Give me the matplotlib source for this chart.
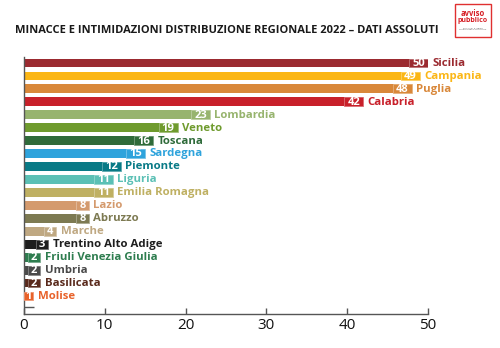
import matplotlib
matplotlib.use("Agg")
import matplotlib.pyplot as plt
from matplotlib.patches import Rectangle
import matplotlib.colors as mcolors

regions = ["Sicilia", "Campania", "Puglia", "Calabria", "Lombardia", "Veneto", "Toscana",
           "Sardegna", "Piemonte", "Liguria", "Emilia Romagna", "Lazio", "Abruzzo", "Marche",
           "Trentino Alto Adige", "Friuli Venezia Giulia", "Umbria", "Basilicata", "Molise"]
values = [50, 49, 48, 42, 23, 19, 16, 15, 12, 11, 11, 8, 8, 4, 3, 2, 2, 2, 1]
colors = ["#9b2a30", "#fbb615", "#d9883a", "#c8202a", "#97b46e", "#6f9b2e", "#2f6b3a",
          "#2ea3dc", "#087a86", "#5bc0b5", "#bfb062", "#d49a6d", "#7d7a52", "#bfa882",
          "#1e1e1e", "#2e7d4f", "#4a4a4a", "#5a2a1c", "#e8622a"]
xticks = [0, 10, 20, 30, 40, 50]
title = "MINACCE E INTIMIDAZIONI DISTRIBUZIONE REGIONALE 2022 – DATI ASSOLUTI"

W, H = 500, 348
fig = plt.figure(figsize=(W / 100, H / 100), dpi=100)
ax = fig.add_axes([24 / W, 1 - 314 / H, (428 - 24) / W, (314 - 57) / H])

pos = list(range(len(regions)))
ax.barh(pos, values, height=0.68, color=colors, zorder=2)
ax.set_xlim(0, 50)
ax.set_ylim(len(regions) - 1 + 1.39, -0.46)

def lighten(c, a=0.35):
    r, g, b = mcolors.to_rgb(c)
    return (r + (1 - r) * a, g + (1 - g) * a, b + (1 - b) * a)

ppx = 50 / (428 - 24)  # data units per pixel
for p, v, c, name in zip(pos, values, colors, regions):
    nd = len(str(v))
    bw = (6 + 6.5 * nd) * ppx
    x0 = max(v - bw, 0.05)
    x1 = max(v, x0 + (5 + 4 * nd) * ppx)
    ax.add_patch(Rectangle((x0, p - 0.34), x1 - x0, 0.68, facecolor=c,
                           edgecolor=lighten(c), linewidth=0.6, zorder=3))
    ax.text((x0 + x1) / 2, p + 0.03, str(v), color="white", fontsize=8,
            fontweight="bold", ha="center", va="center", zorder=4,
            family="Open Sans")
    ax.text(x1 + 4.5 * ppx, p + 0.03, name, color=c, fontsize=8.2,
            fontweight="bold", ha="left", va="center", family="Open Sans",
            clip_on=False)

for s in ["top", "right"]:
    ax.spines[s].set_visible(False)
ax.spines["left"].set_color("#555555")
ax.spines["bottom"].set_color("#555555")
ax.spines["left"].set_linewidth(1.0)
ax.spines["bottom"].set_linewidth(1.0)
ax.set_xticks(xticks)
ax.set_xticklabels([str(t) for t in xticks], fontsize=11, family="Open Sans", color="#111111")
ax.tick_params(axis="x", direction="in", length=4.5, width=1, color="#555555", pad=3)
ax.set_yticks([len(regions) - 1 + 0.85])
ax.set_yticklabels([""])
ax.tick_params(axis="y", direction="in", length=7, width=1, color="#555555")

# title fitted to width
t = fig.text(15 / W, 1 - 30.5 / H, title, fontsize=9, fontweight="bold",
             family="Open Sans", color="#1a1a1a", ha="left", va="center")
fig.canvas.draw()
r = fig.canvas.get_renderer()
w = t.get_window_extent(r).width
t.set_fontsize(9 * 422 / w)

# logo
fig.patches.append(Rectangle((455 / W, 1 - 37 / H), 36 / W, 33 / H, transform=fig.transFigure,
                             facecolor="white", edgecolor="#e03030", linewidth=1.0))
fig.text(473 / W, 1 - 14 / H, "avviso", color="#d62027", fontsize=5.5, fontweight="bold",
         ha="center", va="center", family="Open Sans")
fig.text(473 / W, 1 - 21 / H, "pubblico", color="#d62027", fontsize=5, fontweight="bold",
         ha="center", va="center", family="Open Sans")
fig.text(473 / W, 1 - 29 / H, "enti locali e regioni\ncontro mafie e corruzione", color="#555555",
         fontsize=1.6, ha="center", va="center", family="Open Sans", linespacing=1.0)

fig.savefig("out.png", dpi=100)
